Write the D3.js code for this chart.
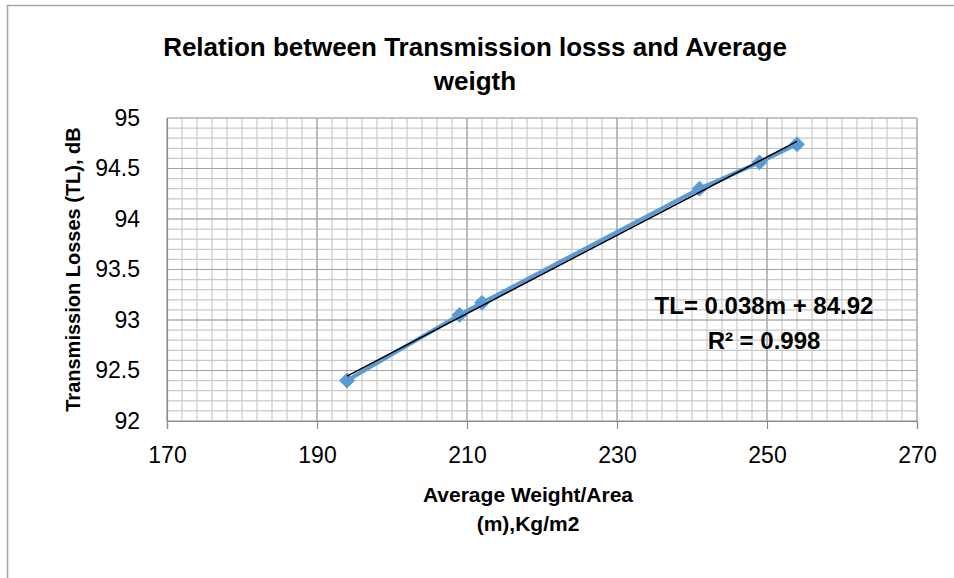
<!DOCTYPE html>
<html>
<head>
<meta charset="utf-8">
<script src="https://cdn.jsdelivr.net/npm/d3@7/dist/d3.min.js"></script>
<style>
  html, body { margin: 0; padding: 0; background: #fff; }
  svg { display: block; }
  text { font-family: "Liberation Sans", Arial, sans-serif; fill: #000; }
</style>
</head>
<body>
<svg id="chart" width="954" height="578"></svg>
<script>
// ---- data ----
const weights = [194, 209, 212, 241, 249, 254];          // Average weight/area (m), kg/m2
const losses  = [92.40, 93.05, 93.17, 94.30, 94.56, 94.74]; // Transmission losses, dB
const xTickValues = [170, 190, 210, 230, 250, 270];
const yTickValues = [92, 92.5, 93, 93.5, 94, 94.5, 95];
const yTickLabels = ["92", "92.5", "93", "93.5", "94", "94.5", "95"];
const titleLines = ["Relation between Transmission losss and Average", "weigth"];
const xTitleLines = ["Average Weight/Area", "(m),Kg/m2"];
const yTitle = "Transmission Losses (TL), dB";
const equationLines = ["TL= 0.038m + 84.92", "R\u00B2 = 0.998"];

// ---- layout ----
const svg = d3.select("#chart");
const plot = { left: 167, right: 917, top: 118, bottom: 421 };

const x = d3.scaleLinear().domain([170, 270]).range([plot.left, plot.right]);
const y = d3.scaleLinear().domain([92, 95]).range([plot.bottom, plot.top]);

// chart area border (extends beyond the visible window)
svg.append("rect")
  .attr("x", 7.5).attr("y", 5.5).attr("width", 1000).attr("height", 1000)
  .attr("fill", "none").attr("stroke", "#a6a6a6").attr("stroke-width", 1.5);

// minor gridlines
const xMinor = d3.range(170, 270.001, 2);
const yMinor = d3.range(0, 31).map(i => 92 + i * 0.1);
const grid = svg.append("g");
grid.selectAll("line.xm").data(xMinor).join("line")
  .attr("x1", d => x(d)).attr("x2", d => x(d))
  .attr("y1", plot.top).attr("y2", plot.bottom)
  .attr("stroke", "#c9c9c9").attr("stroke-width", 1.2);
grid.selectAll("line.ym").data(yMinor).join("line")
  .attr("x1", plot.left).attr("x2", plot.right)
  .attr("y1", d => y(d)).attr("y2", d => y(d))
  .attr("stroke", "#c9c9c9").attr("stroke-width", 1.2);
// major gridlines
grid.selectAll("line.xM").data(xTickValues).join("line")
  .attr("x1", d => x(d)).attr("x2", d => x(d))
  .attr("y1", plot.top).attr("y2", plot.bottom)
  .attr("stroke", "#a3a3a3").attr("stroke-width", 1.2);
grid.selectAll("line.yM").data(yTickValues).join("line")
  .attr("x1", plot.left).attr("x2", plot.right)
  .attr("y1", d => y(d)).attr("y2", d => y(d))
  .attr("stroke", "#a3a3a3").attr("stroke-width", 1.2);

// x axis
const xAxis = d3.axisBottom(x).tickValues(xTickValues).tickSize(8).tickPadding(18).tickFormat(d3.format("d"));
const gx = svg.append("g").attr("transform", `translate(0,${plot.bottom})`).call(xAxis);
gx.select(".domain").attr("stroke", "#8c8c8c").attr("stroke-width", 1.2);
gx.selectAll(".tick line").attr("stroke", "#8c8c8c").attr("stroke-width", 1.2);
gx.selectAll(".tick text").attr("font-size", 23).attr("font-family", "Liberation Sans, Arial, sans-serif").attr("fill", "#000");

// y axis
const yAxis = d3.axisLeft(y).tickValues(yTickValues).tickSize(0).tickPadding(27)
  .tickFormat((d, i) => yTickLabels[i]);
const gy = svg.append("g").attr("transform", `translate(${plot.left},0)`).call(yAxis);
gy.select(".domain").attr("stroke", "#8c8c8c").attr("stroke-width", 1.2);
gy.selectAll(".tick text").attr("font-size", 23).attr("font-family", "Liberation Sans, Arial, sans-serif").attr("fill", "#000");

// data series line
const line = d3.line().x(d => x(d[0])).y(d => y(d[1]));
const pts = weights.map((w, i) => [w, losses[i]]);
svg.append("path").datum(pts).attr("d", line)
  .attr("fill", "none").attr("stroke", "#5b9bd5").attr("stroke-width", 4)
  .attr("stroke-linejoin", "round");

// markers (diamonds)
svg.append("g").selectAll("path").data(pts).join("path")
  .attr("d", d3.symbol().type(d3.symbolDiamond2).size(140))
  .attr("transform", d => `translate(${x(d[0])},${y(d[1])})`)
  .attr("fill", "#5b9bd5").attr("stroke", "#5b9bd5").attr("stroke-width", 1);

// linear trendline (least squares of the data)
const mx = d3.mean(weights), my = d3.mean(losses);
const slope = d3.sum(weights, (w, i) => (w - mx) * (losses[i] - my)) / d3.sum(weights, w => (w - mx) ** 2);
const intercept = my - slope * mx;
const ext = d3.extent(weights);
svg.append("line")
  .attr("x1", x(ext[0])).attr("y1", y(slope * ext[0] + intercept))
  .attr("x2", x(ext[1])).attr("y2", y(slope * ext[1] + intercept))
  .attr("stroke", "#000").attr("stroke-width", 1.5);

// trendline label
svg.append("g").selectAll("text").data(equationLines).join("text")
  .attr("x", 764).attr("y", (d, i) => 305 + i * 35)
  .attr("text-anchor", "middle").attr("dominant-baseline", "central")
  .attr("font-size", 24).attr("font-weight", "bold")
  .text(d => d);

// title
svg.append("g").selectAll("text").data(titleLines).join("text")
  .attr("x", 475).attr("y", (d, i) => 47 + i * 34)
  .attr("text-anchor", "middle").attr("dominant-baseline", "central")
  .attr("font-size", 26).attr("font-weight", "bold")
  .text(d => d);

// x axis title
svg.append("g").selectAll("text").data(xTitleLines).join("text")
  .attr("x", 528).attr("y", (d, i) => 494 + i * 29)
  .attr("text-anchor", "middle").attr("dominant-baseline", "central")
  .attr("font-size", 21).attr("font-weight", "bold")
  .text(d => d);

// y axis title
svg.append("text")
  .attr("transform", `translate(73,${(plot.top + plot.bottom) / 2}) rotate(-90)`)
  .attr("text-anchor", "middle").attr("dominant-baseline", "central")
  .attr("font-size", 20).attr("font-weight", "bold")
  .text(yTitle);
</script>
</body>
</html>
